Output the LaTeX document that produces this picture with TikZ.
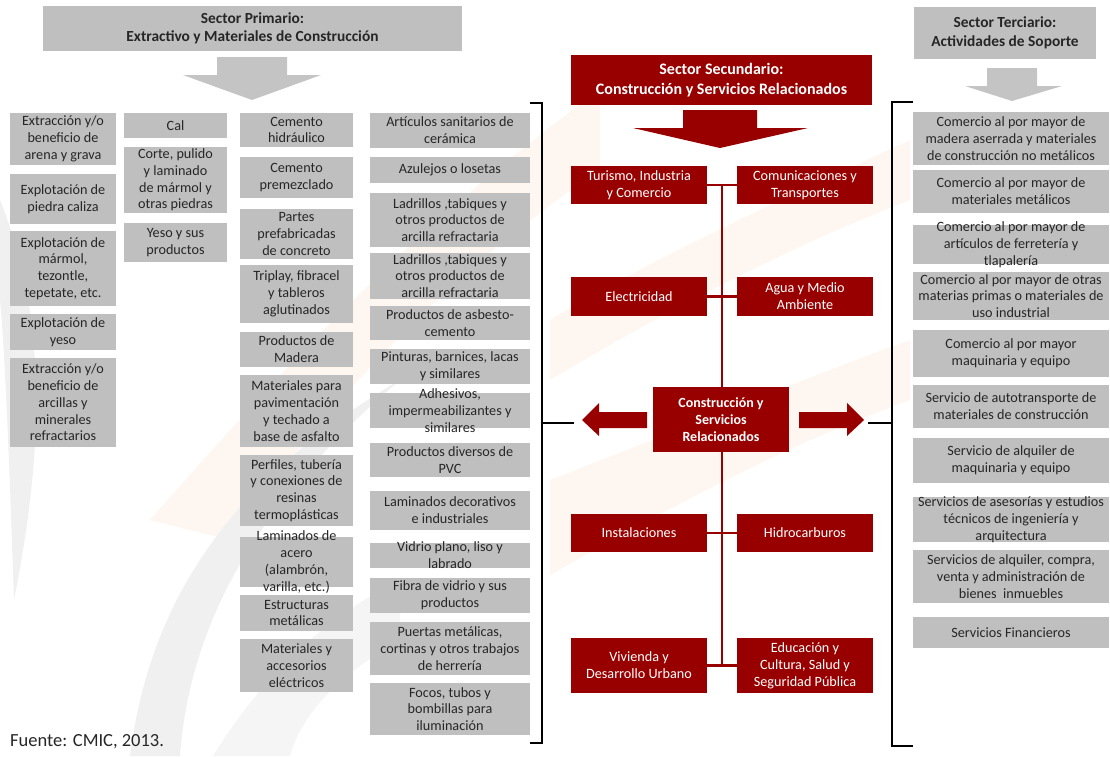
\documentclass[tikz,border=0pt]{standalone}
\usepackage{fontspec}
\setmainfont{Carlito}
\usetikzlibrary{calc}
\definecolor{boxgray}{RGB}{191,191,191}
\definecolor{arrgray}{RGB}{196,196,196}
\definecolor{txtgray}{RGB}{38,38,38}
\definecolor{cmicred}{RGB}{152,0,0}
\definecolor{wmgray}{RGB}{240,240,240}
\definecolor{wmpeach}{RGB}{254,246,240}
\newcommand\gbox[6]{%
  \fill[boxgray] (#2,#3) rectangle (#4,#5);
  \node[gtxt] (#1) at ({(#2+#4)/2},{(#3+#5)/2}) {#6};}
\tikzset{
  gtxt/.style={align=center,inner sep=0pt,text=txtgray,font=\fontsize{14.2}{16.8}\selectfont},
  redbox/.style={fill=cmicred,text=white,align=center,inner sep=0pt,minimum width=136pt,font=\fontsize{14.2}{16.8}\selectfont},
  hdr/.style={align=center,inner sep=0pt,font=\bfseries\fontsize{15.4}{18.5}\selectfont},
  redline/.style={draw=cmicred,line width=2.5pt},
  brk/.style={draw=black,line width=2.5pt},
}
\begin{document}
\begin{tikzpicture}[x=1pt,y=-1pt]
\useasboundingbox (0,0) rectangle (1110,756);
% ---------- watermark ----------
\fill[wmpeach] (150,520) .. controls (300,350) and (420,220) .. (600,90) -- (600,170) .. controls (450,270) and (330,400) .. (230,540) -- cycle;
\fill[wmpeach] (550,575) .. controls (700,490) and (800,440) .. (910,400) -- (910,340) .. controls (800,380) and (680,430) .. (550,480) -- cycle;
\fill[wmpeach] (550,380) .. controls (650,320) and (780,250) .. (910,200) -- (910,140) .. controls (780,200) and (650,260) .. (550,320) -- cycle;
\fill[wmgray] (0,200) .. controls (40,300) and (50,420) .. (14,600) .. controls (10,480) and (5,350) .. (0,300) -- cycle;
\fill[wmgray] (130,756) .. controls (150,600) and (230,480) .. (400,380) .. controls (260,500) and (190,620) .. (180,756) -- cycle;
\fill[wmgray!70!white] (213,756) .. controls (260,680) and (320,620) .. (400,580) -- (400,640) .. controls (330,680) and (300,720) .. (290,756) -- cycle;
% ---------- headers ----------
\node[hdr,fill=boxgray,text=txtgray,minimum width=419pt,minimum height=45pt] (prim) at (252.5,28.5) {Sector Primario:\\Extractivo y Materiales de Construcción};
\node[hdr,fill=boxgray,text=txtgray,minimum width=182pt,minimum height=52pt] (terc) at (1005,33) {Sector Terciario:\\Actividades de Soporte};
\node[hdr,fill=cmicred,text=white,minimum width=301pt,minimum height=50pt,font=\bfseries\fontsize{16}{20}\selectfont] (secu) at (721.5,80) {Sector Secundario:\\Construcción y Servicios Relacionados};
% block arrows
\fill[arrgray] (217,57) -- (287,57) -- (287,75) -- (321,75) -- (252,100) -- (183,75) -- (217,75) -- cycle;
\fill[arrgray] (987,68) -- (1037,68) -- (1037,86) -- (1062,86) -- (1012,101) -- (965,86) -- (987,86) -- cycle;
\fill[cmicred] (683,110) -- (757,110) -- (757,128) -- (808,128) -- (720,148) -- (633,128) -- (683,128) -- cycle;
% ---------- column 1 ----------
\gbox{a1}{10}{113}{116}{165}{Extracción y/o\\beneficio de\\arena y grava}
\gbox{a2}{10}{174}{116}{224}{Explotación de\\piedra caliza}
\gbox{a3}{10}{231}{116}{306}{Explotación de\\mármol,\\tezontle,\\tepetate, etc.}
\gbox{a4}{10}{314}{116}{350}{Explotación de\\yeso}
\gbox{a5}{10}{358}{116}{447}{Extracción y/o\\beneficio de\\arcillas y\\minerales\\refractarios}
% ---------- column 2 ----------
\gbox{b1}{124}{113}{227}{138}{Cal}
\gbox{b2}{124}{147}{227}{213}{Corte, pulido\\y laminado\\de mármol y\\otras piedras}
\gbox{b3}{124}{223}{227}{262}{Yeso y sus\\productos}
% ---------- column 3 ----------
\gbox{c1}{240}{113}{353}{147}{Cemento\\hidráulico}
\gbox{c2}{240}{157}{353}{198}{Cemento\\premezclado}
\gbox{c3}{240}{209}{353}{259}{Partes\\prefabricadas\\de concreto}
\gbox{c4}{240}{265}{353}{323}{Triplay, fibracel\\y tableros\\aglutinados}
\gbox{c5}{240}{332}{353}{367}{Productos de\\Madera}
\gbox{c6}{240}{375}{353}{447}{Materiales para\\pavimentación\\y techado a\\base de asfalto}
\gbox{c7}{240}{455}{353}{526}{Perfiles, tubería\\y conexiones de\\resinas\\termoplásticas}
\gbox{c8}{240}{537}{353}{587}{Laminados de\\acero\\(alambrón,\\varilla, etc.)}
\gbox{c9}{240}{595}{353}{631}{Estructuras\\metálicas}
\gbox{c10}{240}{639}{353}{692}{Materiales y\\accesorios\\eléctricos}
% ---------- column 4 ----------
\gbox{d1}{370}{113}{530}{148}{Artículos sanitarios de\\cerámica}
\gbox{d2}{370}{157}{530}{183}{Azulejos o losetas}
\gbox{d3}{370}{193}{530}{247}{Ladrillos ,tabiques y\\otros productos de\\arcilla refractaria}
\gbox{d4}{370}{253}{530}{299}{Ladrillos ,tabiques y\\otros productos de\\arcilla refractaria}
\gbox{d5}{370}{306}{530}{340}{Productos de asbesto-\\cemento}
\gbox{d6}{370}{349}{530}{384}{Pinturas, barnices, lacas\\y similares}
\gbox{d7}{370}{393}{530}{428}{Adhesivos,\\impermeabilizantes y\\similares}
\gbox{d8}{370}{443}{530}{477}{Productos diversos de\\PVC}
\gbox{d9}{370}{491}{530}{530}{Laminados decorativos\\e industriales}
\gbox{d10}{370}{543}{530}{568}{Vidrio plano, liso y\\labrado}
\gbox{d11}{370}{578}{530}{613}{Fibra de vidrio y sus\\productos}
\gbox{d12}{370}{622}{530}{675}{Puertas metálicas,\\cortinas y otros trabajos\\de herrería}
\gbox{d13}{370}{683}{530}{735}{Focos, tubos y\\bombillas para\\iluminación}
% ---------- right column ----------
\gbox{e1}{913}{112}{1109}{165}{Comercio al por mayor de\\madera aserrada y materiales\\de construcción no metálicos}
\gbox{e2}{913}{170}{1109}{213}{Comercio al por mayor de\\materiales metálicos}
\gbox{e3}{913}{225}{1109}{264}{Comercio al por mayor de\\artículos de ferretería y\\tlapalería}
\gbox{e4}{913}{272}{1109}{320}{Comercio al por mayor de otras\\materias primas o materiales de\\uso industrial}
\gbox{e5}{913}{330}{1109}{377}{Comercio al por mayor\\maquinaria y equipo}
\gbox{e6}{913}{385}{1109}{428}{Servicio de autotransporte de\\materiales de construcción}
\gbox{e7}{913}{438}{1109}{483}{Servicio de alquiler de\\maquinaria y equipo}
\gbox{e8}{913}{497}{1109}{542}{Servicios de asesorías y estudios\\técnicos de ingeniería y\\arquitectura}
\gbox{e9}{913}{550}{1109}{603}{Servicios de alquiler, compra,\\venta y administración de\\bienes\ \ inmuebles}
\gbox{e10}{913}{617}{1109}{648}{Servicios Financieros}
% ---------- brackets ----------
\coordinate (lbt) at (530,103); \coordinate (lbb) at (530,743);
\coordinate (lbm) at (542,423); \coordinate (lbe) at (574,423);
\draw[brk] (lbt) -- (542,103) -- (542,743) -- (lbb);
\draw[brk] (lbm) -- (lbe);
\coordinate (rbt) at (913,102); \coordinate (rbb) at (913,746);
\coordinate (rbm) at (892,423); \coordinate (rbe) at (868,423);
\draw[brk] (rbt) -- (892,102) -- (892,746) -- (rbb);
\draw[brk] (rbm) -- (rbe);
% ---------- red subsector boxes ----------
\node[redbox,minimum height=38pt] (r1) at (639,185) {Turismo, Industria\\y Comercio};
\node[redbox,minimum height=38pt] (r2) at (805,185) {Comunicaciones y\\Transportes};
\node[redbox,minimum height=39pt] (r3) at (639,296.5) {Electricidad};
\node[redbox,minimum height=39pt] (r4) at (805,296.5) {Agua y Medio\\Ambiente};
\node[redbox,minimum height=38pt] (r5) at (639,533) {Instalaciones};
\node[redbox,minimum height=38pt] (r6) at (805,533) {Hidrocarburos};
\node[redbox,minimum height=55pt] (r7) at (639,665.5) {Vivienda y\\Desarrollo Urbano};
\node[redbox,minimum height=55pt] (r8) at (805,665.5) {Educación y\\Cultura, Salud y\\Seguridad Pública};
% spine and branches
\coordinate (sp1) at ($(r1.east)!0.5!(r2.west)$);
\coordinate (sp4) at ($(r7.east)!0.5!(r8.west)$);
\draw[redline] (sp1) -- (sp4);
\draw[redline] (r1.east) -- (r2.west);
\draw[redline] (r3.east) -- (r4.west);
\draw[redline] (r5.east) -- (r6.west);
\draw[redline] (r7.east) -- (r8.west);
% central node
\node[redbox,minimum height=65pt,font=\bfseries\fontsize{14}{17}\selectfont] (cen) at (721,419.5) {Construcción y\\Servicios\\Relacionados};
% side block arrows
\fill[cmicred] (647,412) -- (599,412) -- (599,403) -- (582,420) -- (599,436) -- (599,428) -- (647,428) -- cycle;
\fill[cmicred] (799,412) -- (847,412) -- (847,403) -- (864,420) -- (847,436) -- (847,428) -- (799,428) -- cycle;
% source
\node[anchor=base west,inner sep=0pt,text=txtgray,font=\fontsize{18.5}{22}\selectfont] (src) at (10,746) {Fuente: CMIC, 2013.};
\end{tikzpicture}
\end{document}
